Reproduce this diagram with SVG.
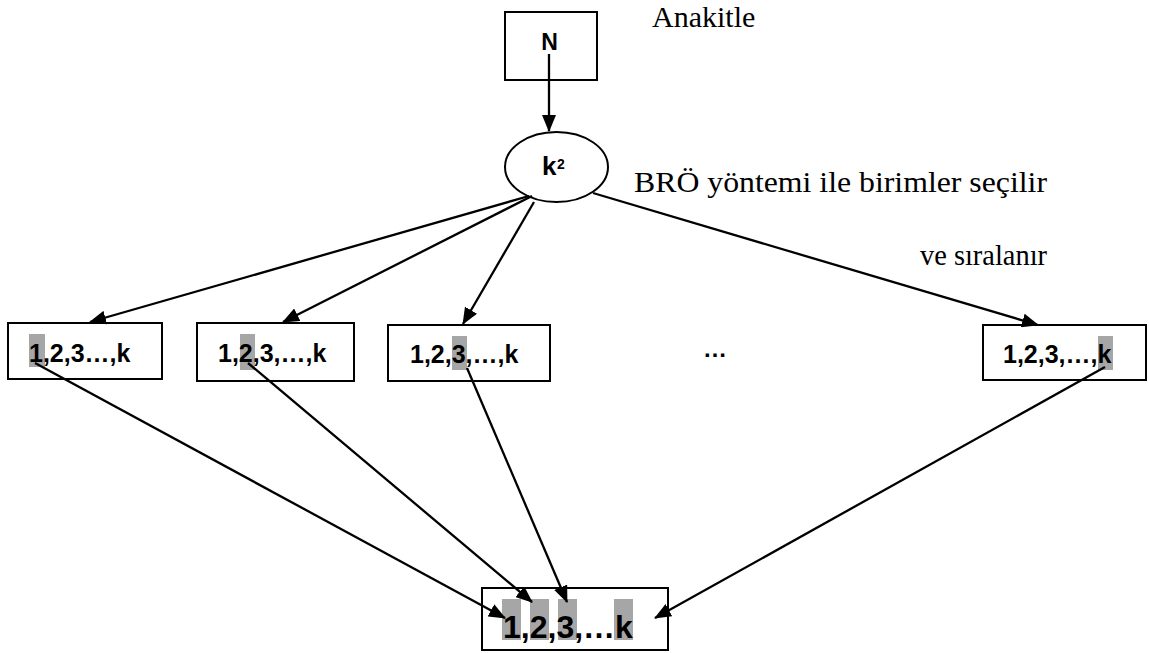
<svg xmlns="http://www.w3.org/2000/svg" width="1149" height="653" viewBox="0 0 1149 653">
<style>
.box{fill:#fff;stroke:#000;stroke-width:2}
.lbl{font-family:"Liberation Sans",Arial,sans-serif;font-weight:bold;fill:#000}
.ser{font-family:"Liberation Serif","Times New Roman",serif;fill:#000}
.hl{fill:#a6a6a6}
.con{stroke:#000;stroke-width:2.3;fill:none;marker-end:url(#ah)}
</style>
<defs>
<marker id="ah" markerUnits="userSpaceOnUse" markerWidth="17" markerHeight="14" refX="16" refY="7" orient="auto">
<path d="M0,0 L17,7 L0,14 Z" fill="#000"/>
</marker>
</defs>
<rect width="1149" height="653" fill="#fff"/>
<g id="labels">
<text class="ser" x="652" y="27" font-size="30">Anakitle</text>
<text class="ser" x="634" y="192" font-size="29" textLength="413" lengthAdjust="spacingAndGlyphs">BRÖ yöntemi ile birimler seçilir</text>
<text class="ser" x="920" y="265" font-size="29" textLength="127" lengthAdjust="spacingAndGlyphs">ve sıralanır</text>
<text class="lbl" x="703" y="357" font-size="24">…</text>
</g>
<g id="node-N">
<rect class="box" x="505" y="12" width="92" height="68"/>
<text class="lbl" x="549.5" y="50" font-size="23" text-anchor="middle">N</text>
</g>
<g id="node-k2">
<ellipse cx="556.5" cy="167" rx="51.5" ry="35" fill="#fff" stroke="#000" stroke-width="2"/>
<text class="lbl" x="542" y="175" font-size="26">k</text>
<text class="lbl" x="557" y="169" font-size="14">2</text>
</g>
<g id="node-b1">
<rect class="box" x="8" y="323" width="154" height="56"/>
<rect class="hl" x="29" y="334" width="16" height="33"/>
<text class="lbl" x="29" y="362" font-size="25">1,2,3…,k</text>
</g>
<g id="node-b2">
<rect class="box" x="197" y="323" width="157" height="58"/>
<rect class="hl" x="240" y="334" width="15" height="36"/>
<text class="lbl" x="218" y="362" font-size="25">1,2,3,…,k</text>
</g>
<g id="node-b3">
<rect class="box" x="388" y="325" width="162" height="56"/>
<rect class="hl" x="452" y="336" width="15" height="34"/>
<text class="lbl" x="410" y="363" font-size="25">1,2,3,…,k</text>
</g>
<g id="node-b4">
<rect class="box" x="983" y="325" width="163" height="55"/>
<rect class="hl" x="1098" y="336" width="15" height="34"/>
<text class="lbl" x="1003" y="363" font-size="25">1,2,3,…,k</text>
</g>
<g id="node-result">
<rect class="box" x="482" y="588" width="186" height="62"/>
<rect class="hl" x="502" y="599" width="19" height="41"/>
<rect class="hl" x="530" y="599" width="19" height="41"/>
<rect class="hl" x="558" y="599" width="19" height="41"/>
<rect class="hl" x="614" y="599" width="19" height="41"/>
<text class="lbl" x="503" y="638" font-size="32">1,2,3,…k</text>
</g>
<g id="connectors">
<line class="con" x1="549" y1="54" x2="549" y2="131"/>
<line class="con" x1="529" y1="196" x2="90" y2="322"/>
<line class="con" x1="532" y1="196" x2="283" y2="322"/>
<line class="con" x1="534" y1="202" x2="463" y2="324"/>
<line class="con" x1="593" y1="193" x2="1038" y2="325"/>
<line class="con" x1="35" y1="363" x2="505" y2="618"/>
<line class="con" x1="248" y1="363" x2="532" y2="602"/>
<line class="con" x1="467" y1="368" x2="567" y2="602"/>
<line class="con" x1="1105" y1="367" x2="655" y2="618"/>
</g>
</svg>
